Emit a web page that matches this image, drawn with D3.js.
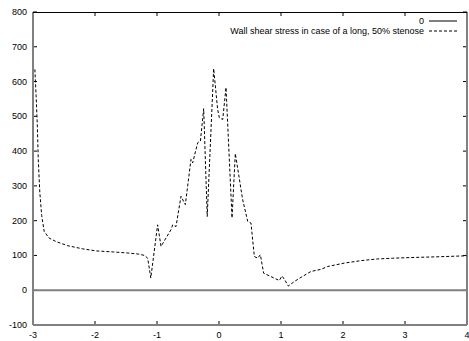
<!DOCTYPE html>
<html>
<head>
<meta charset="utf-8">
<script src="https://cdn.jsdelivr.net/npm/d3@7"></script>
<style>
  body { margin: 0; background: #fff; }
  text { font-family: "Liberation Sans", Arial, sans-serif; font-size: 9px; }
</style>
</head>
<body>
<svg width="469" height="341"></svg>
<script>
// data
var xs = [-2.97, -2.95, -2.93, -2.915, -2.89, -2.86, -2.82, -2.74, -2.63, -2.44, -2.2, -1.98, -1.7, -1.47, -1.3, -1.2, -1.15, -1.1, -0.99, -0.935, -0.855, -0.774, -0.747, -0.694, -0.613, -0.543, -0.452, -0.425, -0.344, -0.30, -0.247, -0.19, -0.086, -0.022, 0.005, 0.06, 0.113, 0.21, 0.263, 0.382, 0.463, 0.516, 0.57, 0.624, 0.667, 0.72, 0.84, 0.973, 1.016, 1.06, 1.118, 1.215, 1.35, 1.484, 1.645, 1.75, 2.02, 2.29, 2.56, 2.8, 3.1, 3.5, 4.0];
var ys = [635, 560, 472, 376, 281, 215, 169, 150, 140, 128, 119, 113, 110, 107, 104, 100, 92, 35, 188, 126, 150, 174, 188, 183, 270, 246, 376, 366, 424, 429, 522, 212, 637, 520, 496, 491, 583, 208, 393, 260, 198, 193, 97, 92, 102, 49, 39, 28, 41, 30, 12, 25, 40, 54, 60, 68, 78, 85, 90, 92, 94, 96, 99];
var zeroLine = [-3, 4];
var xTicks = [-3, -2, -1, 0, 1, 2, 3, 4];
var yTicks = [-100, 0, 100, 200, 300, 400, 500, 600, 700, 800];
var legendLabels = ["0", "Wall shear stress in case of a long, 50% stenose"];

var svg = d3.select("svg");
var pLeft = 33, pRight = 467, pTop = 12, pBottom = 325;

var x = d3.scaleLinear().domain([-3, 4]).range([pLeft, pRight]);
var y = d3.scaleLinear().domain([-100, 800]).range([pBottom, pTop]);

// tick marks (inward, mirrored)
var g = svg.append("g");
xTicks.forEach(function(t) {
  g.append("line").attr("x1", x(t)).attr("x2", x(t)).attr("y1", pBottom).attr("y2", pBottom - 4)
    .attr("stroke", "#000").attr("stroke-width", 1);
  g.append("line").attr("x1", x(t)).attr("x2", x(t)).attr("y1", pTop).attr("y2", pTop + 4)
    .attr("stroke", "#000").attr("stroke-width", 1);
  g.append("text").attr("x", x(t)).attr("y", 338).attr("text-anchor", "middle").text(t);
});
yTicks.forEach(function(t) {
  g.append("line").attr("x1", pLeft).attr("x2", pLeft + 4).attr("y1", y(t)).attr("y2", y(t))
    .attr("stroke", "#000").attr("stroke-width", 1);
  g.append("line").attr("x1", pRight).attr("x2", pRight - 4).attr("y1", y(t)).attr("y2", y(t))
    .attr("stroke", "#000").attr("stroke-width", 1);
  g.append("text").attr("x", 27).attr("y", y(t) + 3).attr("text-anchor", "end").text(t);
});

// zero line
svg.append("line")
  .attr("x1", x(zeroLine[0])).attr("x2", x(zeroLine[1]))
  .attr("y1", y(0)).attr("y2", y(0))
  .attr("stroke", "#808080").attr("stroke-width", 2);

// border
svg.append("line").attr("x1", pLeft).attr("x2", pLeft).attr("y1", pTop).attr("y2", pBottom)
  .attr("stroke", "#808080").attr("stroke-width", 2);
svg.append("line").attr("x1", pRight).attr("x2", pRight).attr("y1", pTop).attr("y2", pBottom)
  .attr("stroke", "#808080").attr("stroke-width", 2);
svg.append("line").attr("x1", pLeft).attr("x2", pRight).attr("y1", pBottom).attr("y2", pBottom)
  .attr("stroke", "#808080").attr("stroke-width", 2);
svg.append("line").attr("x1", pLeft).attr("x2", pRight).attr("y1", pTop + 0.5).attr("y2", pTop + 0.5)
  .attr("stroke", "#000").attr("stroke-width", 1);

// data curve
var line = d3.line().x(function(d) { return x(d[0]); }).y(function(d) { return y(d[1]); });
svg.append("path")
  .datum(d3.zip(xs, ys))
  .attr("d", line)
  .attr("fill", "none")
  .attr("stroke", "#000")
  .attr("stroke-width", 1)
  .attr("stroke-dasharray", "3,2");

// legend
var lg = svg.append("g");
legendLabels.forEach(function(lab, i) {
  var ly = 21 + i * 10;
  lg.append("text").attr("x", 424).attr("y", ly + 3).attr("text-anchor", "end").text(lab);
  lg.append("line").attr("x1", 429).attr("x2", 457).attr("y1", ly).attr("y2", ly)
    .attr("stroke", "#000").attr("stroke-width", 1)
    .attr("stroke-dasharray", i == 0 ? null : "3,2");
});
</script>
</body>
</html>
